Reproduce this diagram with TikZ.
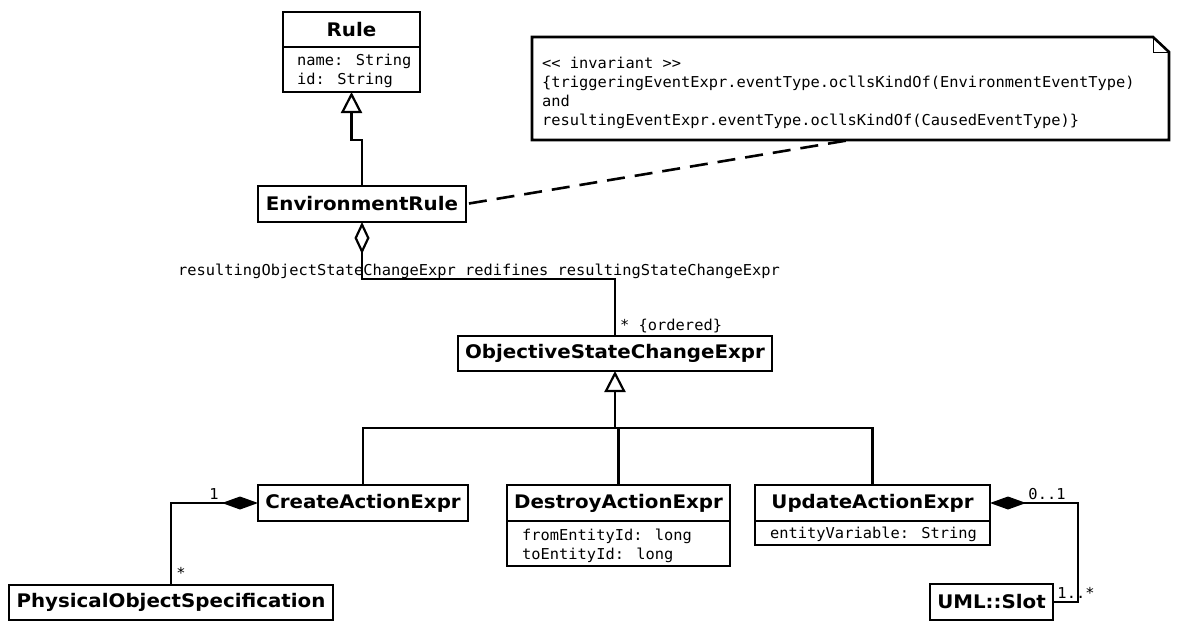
\documentclass[tikz,border=0pt]{standalone}
\usepackage{fontspec}
\setmainfont{DejaVu Sans}
\newfontfamily\titlef[FakeStretch=1.06]{DejaVu Sans Bold}
\newfontfamily\monof[FakeStretch=1.025]{DejaVu Sans Mono}
\usetikzlibrary{arrows.meta}
\begin{document}
\begin{tikzpicture}[x=1pt,y=-1pt,
  cls/.style={draw, line width=2.6pt, fill=white, inner sep=0pt, outer sep=0pt, font=\titlef\fontsize{18.7}{22}\selectfont},
  compbox/.style={draw, line width=2.6pt, fill=white, inner sep=0pt, outer sep=0pt, anchor=north},
  attr/.style={font=\monof\fontsize{15}{18.5}\selectfont, inner sep=0pt, anchor=base west},
  lbl/.style={font=\monof\fontsize{15}{18.5}\selectfont, inner sep=0pt},
  conn/.style={line width=2.6pt},
  gen/.style={conn, -{Triangle[open, length=21pt, width=21pt, line width=2.2pt]}},
  agg/.style={conn, {Diamond[open, length=32pt, width=15pt, line width=2.2pt]}-},
  comp/.style={conn, {Diamond[length=36pt, width=13pt]}-},
  notedash/.style={line width=2.6pt, dash pattern=on 18pt off 10pt}
]
\useasboundingbox[fill=white] (0,0) rectangle (1179,622);

% Rule
\node[cls, minimum width=137pt, minimum height=35pt] (rule) at (351.5,29.5) {Rule};
\node[compbox, minimum width=137pt, minimum height=45pt] (rulea) at (rule.south) {};
\node[attr] (rulet1) at (297,65) {name: String};
\node[attr] (rulet2) at (297,84) {id: String};

% EnvironmentRule
\node[cls, minimum width=208pt, minimum height=36pt] (envrule) at (362,204) {EnvironmentRule};

% Note
\coordinate (n1) at (532,37);
\coordinate (n2) at (1153,37);
\coordinate (n3) at (1169,52);
\coordinate (n4) at (1169,140);
\coordinate (n5) at (532,140);
\coordinate (notept) at (850,140);
\draw[line width=2.6pt, fill=white, line join=miter] (n1) -- (n2) -- (n3) -- (n4) -- (n5) -- cycle;
\draw[line width=1pt] (n2) |- (n3);
\node[attr] (notel1) at (542,68) {<< invariant >>};
\node[attr] (notel2) at (542,87) {\{triggeringEventExpr.eventType.ocllsKindOf(EnvironmentEventType)};
\node[attr] (notel3) at (542,106) {and};
\node[attr] (notel4) at (542,125) {resultingEventExpr.eventType.ocllsKindOf(CausedEventType)\}};

% ObjectiveStateChangeExpr
\node[cls, minimum width=314pt, minimum height=35pt] (osc) at (615,353.5) {ObjectiveStateChangeExpr};

% Subclasses
\node[cls, minimum width=210pt, minimum height=36pt] (create) at (363,503) {CreateActionExpr};
\node[cls, minimum width=223pt, minimum height=36pt] (destroy) at (618.5,503) {DestroyActionExpr};
\node[compbox, minimum width=223pt, minimum height=45pt] (destroya) at (destroy.south) {};
\node[attr] (dt1) at (522,540) {fromEntityId: long};
\node[attr] (dt2) at (522,559) {toEntityId: long};
\node[cls, minimum width=235pt, minimum height=36pt] (update) at (872.5,503) {UpdateActionExpr};
\node[compbox, minimum width=235pt, minimum height=24pt] (updatea) at (update.south) {};
\node[attr] (ut1) at (770,538) {entityVariable: String};

\node[cls, minimum width=324pt, minimum height=35pt] (phys) at (171,602.5) {PhysicalObjectSpecification};
\node[cls, minimum width=123pt, minimum height=36pt] (slot) at (991.5,602) {UML::Slot};

% Connectors
\draw[gen] (envrule.north) -- ++(0,-46) -| (rulea.south);
\draw[notedash, shorten <=3pt] (envrule.east) -- (notept);
\draw[agg] (envrule.south) -- ++(0,57) -| (osc.north);
\node[lbl, anchor=base west] (assoclbl) at (178,275) {resultingObjectStateChangeExpr redifines resultingStateChangeExpr};
\node[lbl, anchor=base west] (ordlbl) at (620,330) {* \{ordered\}};

\coordinate (gj) at (615,428);
\draw[gen] (gj) -- (osc.south);
\draw[conn] (create.north) |- (update.north |- gj) -- (update.north);
\draw[conn] (destroy.north) -- (destroy.north |- gj);

\draw[comp] (create.west) -| (phys.north);
\node[lbl, anchor=base] (c1) at (214,499) {1};
\node[lbl, anchor=base] (c2) at (181,578) {*};

\draw[comp] (update.east) -- ++(88,0) |- (slot.east);
\node[lbl, anchor=base] (u1) at (1047,499) {0..1};
\node[lbl, anchor=base] (u2) at (1076,598) {1..*};
\end{tikzpicture}
\end{document}
